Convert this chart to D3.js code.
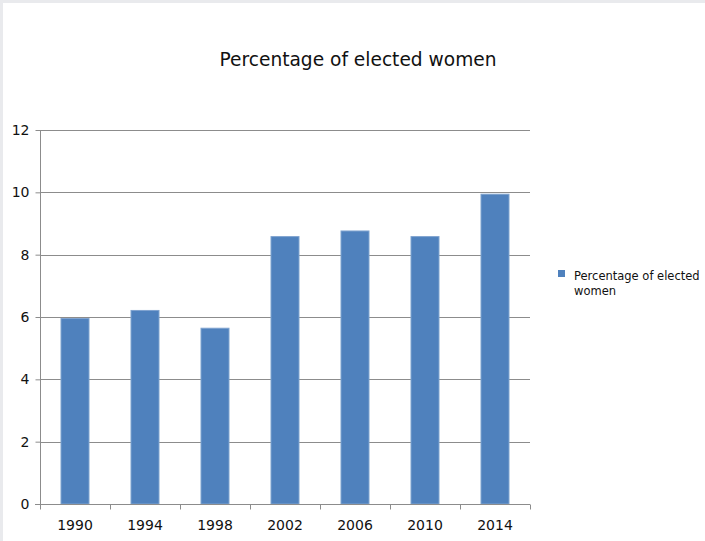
<!DOCTYPE html>
<html>
<head>
<meta charset="utf-8">
<script src="https://cdn.jsdelivr.net/npm/d3@7"></script>
<style>
  html, body { margin: 0; padding: 0; background: #e9eaed; }
  svg { display: block; }
</style>
</head>
<body>
<script>
// Election years and share of women elected (%)
const years = ["1990", "1994", "1998", "2002", "2006", "2010", "2014"];
const percentages = [5.95, 6.21, 5.64, 8.58, 8.76, 8.58, 9.94];
const yTicks = [0, 2, 4, 6, 8, 10, 12];
const seriesName = "Percentage of elected women";
const chartTitle = "Percentage of elected women";

const W = 705, H = 541;
const font = "DejaVu Sans, Tahoma, Verdana, sans-serif";

const svg = d3.select("body").append("svg")
  .attr("width", W).attr("height", H);

// white chart surface inside a thin grey frame
svg.append("rect").attr("x", 0).attr("y", 0).attr("width", W).attr("height", H).attr("fill", "#e9eaed");
svg.append("rect").attr("x", 3).attr("y", 3).attr("width", W - 3).attr("height", H - 3).attr("fill", "#ffffff");

const plot = { left: 40, right: 530, top: 130, bottom: 504 };

const x = d3.scaleBand().domain(years).range([plot.left, plot.right])
  .paddingInner(0.6).paddingOuter(0.3);
const y = d3.scaleLinear().domain([0, 12]).range([plot.bottom, plot.top]);

const gridColor = "#8c8c8c";

// horizontal gridlines
svg.append("g").selectAll("line").data(yTicks.filter(d => d > 0)).join("line")
  .attr("x1", plot.left).attr("x2", plot.right)
  .attr("y1", d => Math.round(y(d)) + 0.5).attr("y2", d => Math.round(y(d)) + 0.5)
  .attr("stroke", gridColor).attr("stroke-width", 1);

// bars
svg.append("g").selectAll("rect").data(years).join("rect")
  .attr("x", d => x(d))
  .attr("width", x.bandwidth())
  .attr("y", (d, i) => y(percentages[i]))
  .attr("height", (d, i) => y(0) - y(percentages[i]))
  .attr("fill", "#4f81bd")
  .attr("stroke", "#7fa3cf").attr("stroke-width", 1);

// y axis
const yAxis = svg.append("g").attr("transform", `translate(${plot.left + 0.5},0)`)
  .call(d3.axisLeft(y).tickValues(yTicks).tickSize(5).tickPadding(6));
yAxis.select(".domain").attr("stroke", gridColor).attr("d", `M0,${plot.top}V${plot.bottom}`);
yAxis.selectAll(".tick line").attr("stroke", gridColor);
yAxis.selectAll(".tick text").attr("font-family", font).attr("font-size", 14).attr("fill", "#111");

// x axis with ticks at category boundaries
const xAxis = svg.append("g").attr("transform", `translate(0,${Math.round(plot.bottom) + 0.5})`);
xAxis.append("line").attr("x1", plot.left - 5).attr("x2", plot.right)
  .attr("stroke", gridColor);
const boundaries = d3.range(years.length + 1).map(i => plot.left + i * (plot.right - plot.left) / years.length);
xAxis.selectAll("line.tk").data(boundaries).join("line").attr("class", "tk")
  .attr("x1", d => Math.round(d) + 0.5).attr("x2", d => Math.round(d) + 0.5)
  .attr("y1", 0).attr("y2", 5).attr("stroke", gridColor);
xAxis.selectAll("text").data(years).join("text")
  .attr("x", d => x(d) + x.bandwidth() / 2)
  .attr("y", 25)
  .attr("text-anchor", "middle")
  .attr("font-family", font).attr("font-size", 14).attr("fill", "#111")
  .text(d => d);

// title
svg.append("text").attr("x", 358).attr("y", 66).attr("text-anchor", "middle")
  .attr("font-family", font).attr("font-size", 18.6).attr("fill", "#111")
  .text(chartTitle);

// legend
const lg = svg.append("g");
lg.append("rect").attr("x", 558).attr("y", 270).attr("width", 7).attr("height", 7).attr("fill", "#4f81bd");
const words = seriesName.split(" ");
const lines = [words.slice(0, 3).join(" "), words.slice(3).join(" ")];
lg.append("text").attr("font-family", font).attr("font-size", 11.5).attr("fill", "#111")
  .selectAll("tspan").data(lines).join("tspan")
  .attr("x", 574).attr("y", (d, i) => 280 + i * 15)
  .text(d => d);
</script>
</body>
</html>
